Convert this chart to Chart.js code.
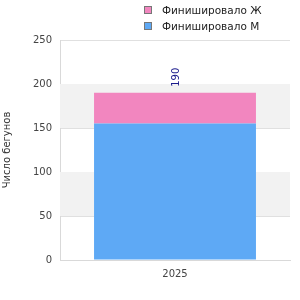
<!DOCTYPE html>
<html>
<head>
<meta charset="utf-8">
<script src="https://cdn.jsdelivr.net/npm/chart.js@4"></script>
<style>
html,body{margin:0;padding:0;background:#fff;}
#wrap{position:relative;width:300px;height:300px;}
#legend{position:absolute;left:144px;top:2px;font-family:"DejaVu Sans",sans-serif;font-size:10.5px;color:#222;}
.li{display:flex;align-items:center;height:16px;}
.box{width:6px;height:6px;border:1px solid #777;margin-right:10px;}
</style>
</head>
<body>
<div id="wrap">
<canvas id="c" width="300" height="300"></canvas>
<div id="legend"></div>
</div>
<script>
const categories = ['2025'];
const seriesNames = ['Финишировало М', 'Финишировало Ж'];
const male = [155];
const female = [35];
const totals = [190];
const yTicks = [0, 50, 100, 150, 200, 250];
const yTitle = 'Число бегунов';
const colors = ['#5ea9f5', '#f286bf'];

const legendOrder = [1, 0];
const lg = document.getElementById('legend');
legendOrder.forEach(i => {
  const d = document.createElement('div'); d.className = 'li';
  const b = document.createElement('div'); b.className = 'box'; b.style.background = colors[i];
  const t = document.createElement('span'); t.textContent = seriesNames[i];
  d.appendChild(b); d.appendChild(t); lg.appendChild(d);
});

const bands = {
  id: 'bands',
  beforeDatasetsDraw(chart) {
    const {ctx, chartArea, scales} = chart;
    const y = scales.y;
    ctx.save();
    ctx.fillStyle = '#f2f2f2';
    for (let i = 1; i < yTicks.length - 1; i += 2) {
      const top = y.getPixelForValue(yTicks[i + 1]);
      const bot = y.getPixelForValue(yTicks[i]);
      ctx.fillRect(chartArea.left, top, chartArea.right - chartArea.left, bot - top);
    }
    ctx.restore();
  }
};
const totalLabel = {
  id: 'totalLabel',
  afterDatasetsDraw(chart) {
    const {ctx, scales} = chart;
    ctx.save();
    ctx.fillStyle = '#1a1a8c';
    ctx.font = '10px "DejaVu Sans"';
    ctx.textAlign = 'left';
    ctx.textBaseline = 'middle';
    totals.forEach((v, i) => {
      const x = scales.x.getPixelForValue(i) + 1;
      const y = scales.y.getPixelForValue(v);
      ctx.translate(x, y - 6);
      ctx.rotate(-Math.PI / 2);
      ctx.fillText(String(v), 0, 0);
    });
    ctx.restore();
  }
};

new Chart(document.getElementById('c'), {
  type: 'bar',
  data: {
    labels: categories,
    datasets: [
      {label: seriesNames[0], data: male, backgroundColor: colors[0], borderWidth: 0},
      {label: seriesNames[1], data: female, backgroundColor: colors[1], borderWidth: 0}
    ]
  },
  options: {
    responsive: false,
    animation: false,
    devicePixelRatio: 1,
    layout: {padding: {top: 40, right: 10, left: 1, bottom: 0}},
    barPercentage: 0.704,
    categoryPercentage: 1,
    plugins: {legend: {display: false}, tooltip: {enabled: false}},
    scales: {
      x: {
        stacked: true,
        grid: {display: false, drawTicks: false},
        border: {color: '#d9d9d9'},
        ticks: {color: '#444', font: {family: 'DejaVu Sans', size: 10}, padding: 8},
        afterFit(s) { s.height = 40; }
      },
      y: {
        stacked: true,
        min: 0, max: 250,
        afterBuildTicks(s) { s.ticks = yTicks.map(v => ({value: v})); },
        grid: {color: '#e0e0e0', drawTicks: false},
        border: {color: '#d9d9d9'},
        ticks: {color: '#444', font: {family: 'DejaVu Sans', size: 10}, padding: 8},
        title: {display: true, text: yTitle, color: '#333', font: {family: 'DejaVu Sans', size: 10}, padding: {top: 0, bottom: 0}},
        afterFit(s) { s.width = 59; }
      }
    }
  },
  plugins: [bands, totalLabel]
});
</script>
</body>
</html>
